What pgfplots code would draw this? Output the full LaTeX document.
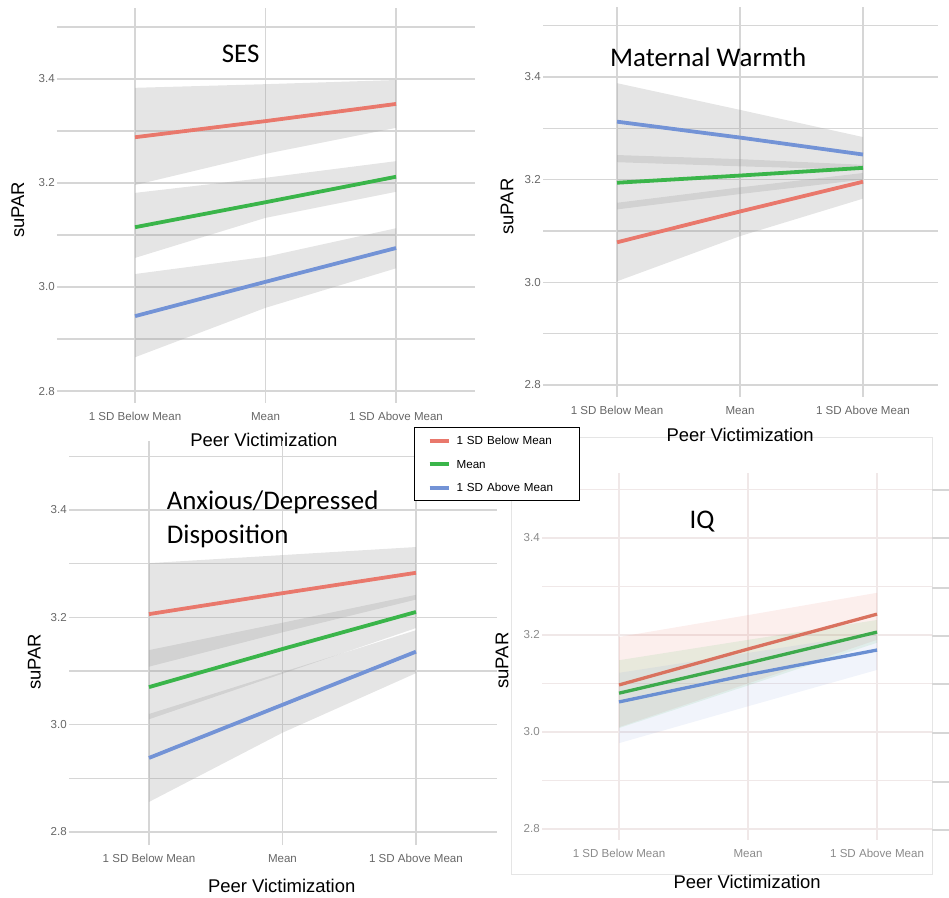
\documentclass[border=0pt]{standalone}
\usepackage{fontspec}
\setmainfont{Liberation Sans}
\newfontfamily\titlefont{Carlito}
\usepackage{pgfplots}
\pgfplotsset{compat=1.18}
\definecolor{cRed}{HTML}{E9786C}
\definecolor{cGreen}{HTML}{3AB54A}
\definecolor{cBlue}{HTML}{7393D6}
\definecolor{iqRed}{HTML}{D9725F}
\definecolor{iqGreen}{HTML}{3DAA4C}
\definecolor{iqBlue}{HTML}{6A8FD2}
\definecolor{gridc}{HTML}{D6D6D6}
\definecolor{iqgrid}{HTML}{F0E8E8}
\definecolor{tickc}{HTML}{666666}
\definecolor{iqtick}{HTML}{8A8A8A}
\definecolor{bandc}{HTML}{999999}
\pgfplotsset{
  panel/.style={
    scale only axis, anchor=south west,
    axis line style={draw=none},
    major tick length=0pt,
    xtick={0,1,2},
    xticklabels={1 SD Below Mean,Mean,1 SD Above Mean},
    ytick={2.8,2.9,3.0,3.1,3.2,3.3,3.4,3.5},
    yticklabels={2.8,,3.0,,3.2,,3.4,},
    grid=major,
    major grid style={draw=gridc, line width=1.25bp},
    tick label style={font=\fontsize{11.6}{13}\selectfont, text=tickc, inner sep=0pt},
    xticklabel style={anchor=base, yshift=-17.5bp},
    yticklabel style={anchor=east, xshift=-2bp},
    label style={font=\fontsize{18.5}{21}\selectfont, inner sep=0pt, text=black},
    xlabel={Peer Victimization}, ylabel={suPAR},
  },
  band/.style={draw=none, fill=bandc, fill opacity=0.25, forget plot},
  ln/.style={line width=3.8bp, no markers},
}
\begin{document}
\begin{tikzpicture}
\path[use as bounding box] (0bp,0bp) rectangle (949bp,898bp);

% frame of the IQ panel (drawn first, behind everything)
\draw[draw=black!10, line width=1bp] (511bp,23bp) rectangle (932bp,460bp);

% ---------------- SES ----------------
\begin{axis}[panel, at={(57bp,495bp)}, width=418bp, height=395bp,
  xmin=-0.598, xmax=2.605, ymin=2.777, ymax=3.5365,
  xlabel style={at={(axis description cs:0.495,-0.1089)}, anchor=base},
  ylabel style={at={(axis description cs:-0.0789,0.4886)}, anchor=base}]
\addplot[band] coordinates {(0,3.383)(1,3.390)(2,3.398)(2,3.306)(1,3.256)(0,3.196)} -- cycle;
\addplot[band] coordinates {(0,3.181)(1,3.210)(2,3.242)(2,3.183)(1,3.133)(0,3.056)} -- cycle;
\addplot[band] coordinates {(0,3.025)(1,3.058)(2,3.113)(2,3.036)(1,2.960)(0,2.865)} -- cycle;
\addplot[ln, cRed] coordinates {(0,3.288)(1,3.319)(2,3.352)};
\addplot[ln, cGreen] coordinates {(0,3.115)(1,3.163)(2,3.212)};
\addplot[ln, cBlue] coordinates {(0,2.944)(1,3.010)(2,3.075)};
\end{axis}

% ---------------- Maternal Warmth ----------------
\begin{axis}[panel, at={(543bp,501bp)}, width=395bp, height=390bp,
  xmin=-0.602, xmax=2.610, ymin=2.7766, ymax=3.5364,
  xlabel style={at={(axis description cs:0.499,-0.1146)}, anchor=base},
  ylabel style={at={(axis description cs:-0.0752,0.488)}, anchor=base}]
\addplot[band] coordinates {(0,3.388)(1,3.336)(2,3.283)(2,3.219)(1,3.226)(0,3.234)} -- cycle;
\addplot[band] coordinates {(0,3.248)(1,3.240)(2,3.229)(2,3.200)(1,3.172)(0,3.142)} -- cycle;
\addplot[band] coordinates {(0,3.155)(1,3.185)(2,3.213)(2,3.163)(1,3.090)(0,3.002)} -- cycle;
\addplot[ln, cRed] coordinates {(0,3.078)(1,3.138)(2,3.196)};
\addplot[ln, cGreen] coordinates {(0,3.194)(1,3.208)(2,3.223)};
\addplot[ln, cBlue] coordinates {(0,3.313)(1,3.282)(2,3.249)};
\end{axis}

% ---------------- IQ ----------------
\begin{axis}[panel, at={(542bp,58bp)}, width=390bp, height=367bp,
  xmin=-0.597, xmax=2.426, ymin=2.7773, ymax=3.534,
  major grid style={draw=iqgrid, line width=1.2bp},
  tick label style={text=iqtick},
  xlabel style={at={(axis description cs:0.526,-0.1316)}, anchor=base},
  ylabel style={at={(axis description cs:-0.0864,0.4886)}, anchor=base}]
\addplot[draw=none, fill=cRed, fill opacity=0.12, forget plot] coordinates {(0,3.196)(1,3.241)(2,3.287)(2,3.190)(1,3.100)(0,3.010)} -- cycle;
\addplot[draw=none, fill=cGreen, fill opacity=0.10, forget plot] coordinates {(0,3.148)(1,3.190)(2,3.231)(2,3.184)(1,3.096)(0,3.008)} -- cycle;
\addplot[draw=none, fill=cBlue, fill opacity=0.10, forget plot] coordinates {(0,3.122)(1,3.163)(2,3.204)(2,3.128)(1,3.053)(0,2.977)} -- cycle;
\addplot[line width=3.3bp, no markers, iqRed] coordinates {(0,3.097)(1,3.171)(2,3.243)};
\addplot[line width=3.3bp, no markers, iqGreen] coordinates {(0,3.080)(1,3.142)(2,3.206)};
\addplot[line width=3.3bp, no markers, iqBlue] coordinates {(0,3.062)(1,3.118)(2,3.169)};
\end{axis}

% ---------------- Anxious/Depressed ----------------
\begin{axis}[panel, at={(69bp,53bp)}, width=428bp, height=404bp,
  xmin=-0.599, xmax=2.607, ymin=2.7758, ymax=3.5286,
  xlabel style={at={(axis description cs:0.497,-0.118)}, anchor=base},
  ylabel style={at={(axis description cs:-0.0661,0.4537)}, anchor=base},
  legend style={at={(axis description cs:0.8061,1.0347)}, anchor=north west,
    draw=black, line width=1.3bp, fill=white, inner xsep=3bp, inner ysep=1.25bp,
    column sep=6bp, font=\fontsize{11.7}{13}\selectfont,
    nodes={inner xsep=0pt, inner ysep=7.5bp, text height=8.5bp, text depth=0pt,
      text width=120bp, align=left}},
  legend cell align=left,
  legend image code/.code={\path (-10bp,0bp); \draw[#1, line width=4bp] (0bp,0bp) -- (19bp,0bp);}]
\addplot[band] coordinates {(0,3.301)(1,3.316)(2,3.331)(2,3.233)(1,3.172)(0,3.108)} -- cycle;
\addplot[band] coordinates {(0,3.139)(1,3.190)(2,3.242)(2,3.180)(1,3.095)(0,3.010)} -- cycle;
\addplot[band] coordinates {(0,3.020)(1,3.098)(2,3.176)(2,3.096)(1,2.985)(0,2.856)} -- cycle;
\addplot[ln, cRed] coordinates {(0,3.206)(1,3.245)(2,3.283)};
\addlegendentry{1 SD Below Mean}
\addplot[ln, cGreen] coordinates {(0,3.070)(1,3.141)(2,3.210)};
\addlegendentry{Mean}
\addplot[ln, cBlue] coordinates {(0,2.938)(1,3.037)(2,3.136)};
\addlegendentry{1 SD Above Mean}
\end{axis}

% stray grid ends at right edge
\foreach \yy in {408,360,310,262,214,165,116,68}{
  \draw[draw=gridc, line width=1.2bp] (932bp,\yy bp) -- (949bp,\yy bp);
}

% titles
\node[anchor=base west, inner sep=0pt, font=\titlefont\fontsize{27}{32}\selectfont] at (221.7bp,835.8bp) {SES};
\node[anchor=base west, inner sep=0pt, font=\titlefont\fontsize{27}{32}\selectfont] at (610bp,831.3bp) {Maternal Warmth};
\node[anchor=base west, inner sep=0pt, font=\titlefont\fontsize{27}{32}\selectfont] at (166.7bp,388bp) {Anxious/Depressed};
\node[anchor=base west, inner sep=0pt, font=\titlefont\fontsize{27}{32}\selectfont] at (166.7bp,354.7bp) {Disposition};
\node[anchor=base west, inner sep=0pt, font=\titlefont\fontsize{27}{32}\selectfont] at (689.3bp,369.7bp) {IQ};
\end{tikzpicture}
\end{document}
